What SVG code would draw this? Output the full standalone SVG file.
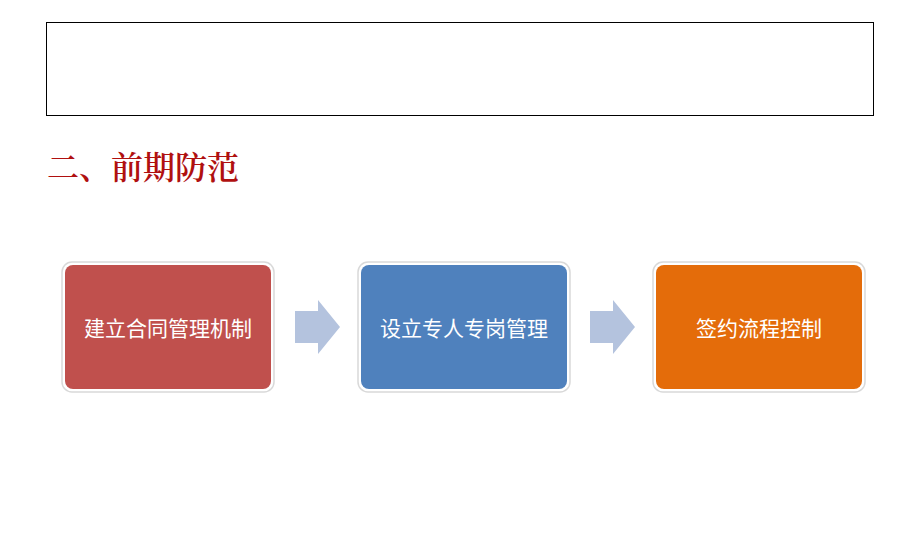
<svg xmlns="http://www.w3.org/2000/svg" width="920" height="560" viewBox="0 0 920 560">
<style>
.frame{fill:#fff;stroke:#d9d9d9;stroke-width:1.5}
.lbl{fill:#fff;font-family:"Noto Sans CJK SC","Noto Sans",sans-serif;font-size:21px;text-anchor:middle;dominant-baseline:central}
.arr{fill:#b4c3de}
</style>
<rect width="920" height="560" fill="#fff"/>
<rect x="46.5" y="22.5" width="827" height="93" fill="none" stroke="#000" stroke-width="1"/>
<text x="47" y="179" fill="#b01010" font-family="'Noto Serif CJK SC','Noto Sans CJK SC',serif" font-size="32" font-weight="600">二、前期防范</text>
<g id="n1">
<rect class="frame" x="62" y="262" width="212" height="130" rx="10"/>
<rect x="65" y="265" width="206" height="124" rx="8" fill="#c0504d"/>
<text class="lbl" x="168" y="327">建立合同管理机制</text>
</g>
<g id="n2">
<rect class="frame" x="358" y="262" width="212" height="130" rx="10"/>
<rect x="361" y="265" width="206" height="124" rx="8" fill="#4f81bd"/>
<text class="lbl" x="464" y="327">设立专人专岗管理</text>
</g>
<g id="n3">
<rect class="frame" x="653" y="262" width="212" height="130" rx="10"/>
<rect x="656" y="265" width="206" height="124" rx="8" fill="#e46c0a"/>
<text class="lbl" x="759" y="327">签约流程控制</text>
</g>
<g id="connectors">
<polygon class="arr" points="295,311 318,311 318,300 340,327 318,354 318,343 295,343"/>
<polygon class="arr" points="590,311 613,311 613,300 635,327 613,354 613,343 590,343"/>
</g>
</svg>
